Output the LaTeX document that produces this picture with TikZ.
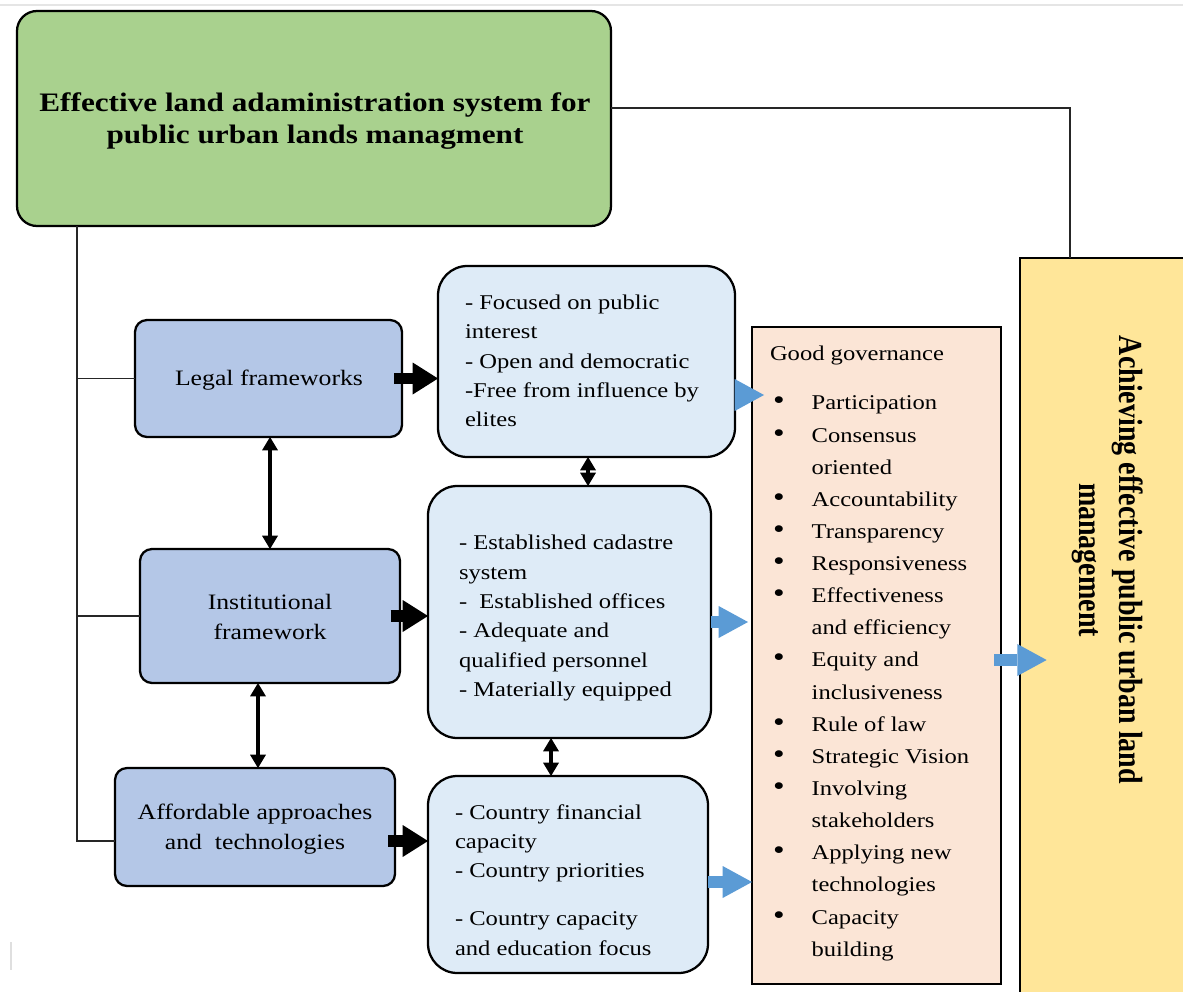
\documentclass[tikz,border=0pt]{standalone}
\usepackage{fontspec}
\setmainfont{Liberation Serif}[FakeStretch=1.17]
\newfontfamily\goalfont{Liberation Serif}
\usetikzlibrary{arrows.meta,fit}

\definecolor{gGreen}{HTML}{A9D18E}
\definecolor{gBlue}{HTML}{B4C7E7}
\definecolor{gLight}{HTML}{DEEBF7}
\definecolor{gPink}{HTML}{FBE5D6}
\definecolor{gYellow}{HTML}{FFE699}
\definecolor{gArrow}{HTML}{5B9BD5}

\newcommand{\govitem}[1]{\makebox[29pt][l]{\scalebox{1.35}{\textbullet}}#1}
\newcommand{\govmore}[1]{\hspace*{29pt}#1}

\begin{document}
\begin{tikzpicture}[x=0.75pt,y=-0.75pt,
  every node/.style={inner sep=0pt, outer sep=0pt},
  frame/.style={draw=black, line width=1.7pt},
  titlebox/.style={frame, fill=gGreen, rounded corners=15pt},
  pillar/.style={frame, fill=gBlue, rounded corners=9pt},
  detail/.style={frame, fill=gLight, rounded corners=22pt},
  govbox/.style={frame, fill=gPink},
  goalbox/.style={frame, fill=gYellow},
  link/.style={line width=1.1pt, draw=black!85},
  twoway/.style={line width=3pt, {Triangle[length=10pt,width=12pt,line width=0pt]}-{Triangle[length=10pt,width=12pt,line width=0pt]}},
  push/.style={line width=8.5pt, -{Triangle[length=19pt,width=24pt,line width=0pt]}},
  flow/.style={line width=8.5pt, gArrow, -{Triangle[length=22pt,width=24pt,line width=0pt]}},
  titletext/.style={font=\bfseries\fontsize{20pt}{24pt}\selectfont, align=center},
  pillartext/.style={font=\fontsize{16.5pt}{22pt}\selectfont, align=center},
  listtext/.style={font=\fontsize{15.75pt}{22pt}\selectfont, align=left},
  govtext/.style={font=\fontsize{15.75pt}{24.1pt}\selectfont, align=left},
]
\clip (0,0) rectangle (1183,992);
\fill[white] (0,0) rectangle (1183,992);

% faint page edges
\draw[gray!20, line width=1pt] (0,5) -- (1183,5);
\draw[gray!25, line width=1.2pt] (11,942) -- (11,970);

% main boxes
\node[titlebox, fit={(17,11) (611,226)}] (G) {};
\node[titletext] (Gt) at (315,121)
  {Effective land adaministration system for\\public urban lands managment};

\node[pillar, fit={(135,320) (402,437)}] (L) {};
\node[pillartext] (Lt) at (269,380) {Legal frameworks};
\node[pillar, fit={(140,549) (400,683)}] (I) {};
\node[pillartext] (It) at (270,617) {Institutional\\framework};
\node[pillar, fit={(115,768) (395,886)}] (Af) {};
\node[pillartext] (Aft) at (255,829) {Affordable approaches\\and\ \ technologies};

\node[detail, fit={(438,266) (735,457)}] (A) {};
\node[detail, fit={(428,486) (711,738)}] (B) {};
\node[detail, fit={(428,776) (708,973)}] (C) {};

\node[listtext, anchor=west] (At) at (465,361)
  {- Focused on public\\interest\\- Open and democratic\\-Free from influence by\\elites};
\node[listtext, anchor=west] (Bt) at (459,618)
  {- Established cadastre\\system\\-\ \ Established offices\\- Adequate and\\qualified personnel\\- Materially equipped};
\node[listtext, anchor=west] (Ct) at (455,880)
  {- Country financial\\capacity\\- Country priorities\\[14pt]- Country capacity\\and education focus};

\node[govbox, fit={(752,327) (1001,984)}] (P) {};
\node[govtext, anchor=north west] (Ph) at (770,346) {Good governance};
\node[govtext, anchor=north west] (Pl) at (773,396)
  {\govitem{Participation}\\
   \govitem{Consensus}\\
   \govmore{oriented}\\
   \govitem{Accountability}\\
   \govitem{Transparency}\\
   \govitem{Responsiveness}\\
   \govitem{Effectiveness}\\
   \govmore{and efficiency}\\
   \govitem{Equity and}\\
   \govmore{inclusiveness}\\
   \govitem{Rule of law}\\
   \govitem{Strategic Vision}\\
   \govitem{Involving}\\
   \govmore{stakeholders}\\
   \govitem{Applying new}\\
   \govmore{technologies}\\
   \govitem{Capacity}\\
   \govmore{building}};

\node[goalbox, fit={(1020,258) (1200,1000)}] (Y) {};
\node[rotate=-90, font=\goalfont\bfseries\fontsize{21pt}{25pt}\selectfont] (Yt) at (1107,560)
  {\scalebox{1}[1.2]{\begin{tabular}{@{}c@{}}Achieving effective public urban land\\management\end{tabular}}};

% connectors
\coordinate (hy) at (0,108);
\coordinate (vx) at (1070,0);
\draw[link] (G.east |- hy) -- (vx |- hy) -- (vx |- Y.north);

\coordinate (trunk) at (77,0);
\coordinate (a3) at (0,841);
\draw[link] (G.south -| trunk) -- (trunk |- a3) -- (Af.west |- a3);
\draw[link] (trunk |- L.west) -- (L.west);
\draw[link] (trunk |- I.west) -- (I.west);

% two-way links between the columns
\coordinate (d1) at (270,0);
\coordinate (d2) at (258,0);
\coordinate (d3) at (588,0);
\coordinate (d4) at (551,0);
\draw[twoway] (L.south -| d1) -- (I.north -| d1);
\draw[twoway] (I.south -| d2) -- (Af.north -| d2);
\draw[twoway] (A.south -| d3) -- (B.north -| d3);
\draw[twoway] (B.south -| d4) -- (C.north -| d4);

% pillars feed the detail boxes
\draw[push, shorten <=-6pt] (L.east) -- (L.east -| A.west);
\draw[push, shorten <=-7pt] (I.east) -- (I.east -| B.west);
\draw[push, shorten <=-5pt] (Af.east |- a3) -- (C.west |- a3);

% flows into good governance and the goal
\coordinate (b1) at (0,395);
\coordinate (b2) at (0,622);
\coordinate (b3) at (0,882);
\coordinate (b4) at (0,660);
\draw[flow, shorten >=-9pt] (A.east |- b1) -- (P.west |- b1);
\draw[flow, shorten >=3pt] (B.east |- b2) -- (P.west |- b2);
\draw[flow] (C.east |- b3) -- (P.west |- b3);
\draw[flow, shorten <=-5pt, shorten >=-20pt] (P.east |- b4) -- (Y.west |- b4);
\end{tikzpicture}
\end{document}
